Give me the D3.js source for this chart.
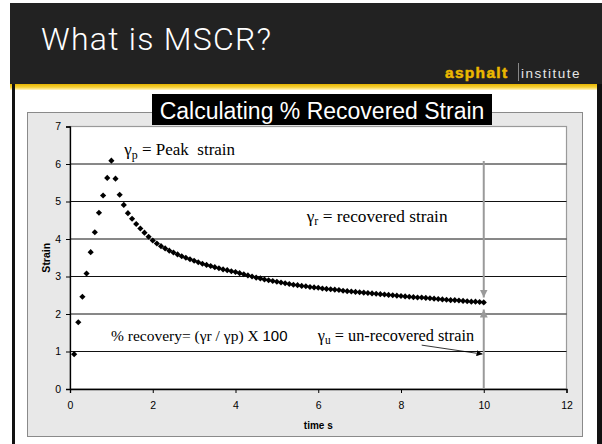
<!DOCTYPE html>
<html><head><meta charset="utf-8">
<script src="https://cdn.jsdelivr.net/npm/d3@7"></script>
<style>html,body{margin:0;padding:0;background:#fff;} svg{display:block;}</style>
</head><body>
<script>
// ---- data ----
const times = [0.1,0.2,0.3,0.4,0.5,0.6,0.7,0.8,0.9,1.0,1.1,1.2,1.3,1.4,1.5,1.6,1.7,1.8,1.9,2.0,
2.1,2.2,2.3,2.4,2.5,2.6,2.7,2.8,2.9,3.0,3.1,3.2,3.3,3.4,3.5,3.6,3.7,3.8,3.9,4.0,
4.1,4.2,4.3,4.4,4.5,4.6,4.7,4.8,4.9,5.0,5.1,5.2,5.3,5.4,5.5,5.6,5.7,5.8,5.9,6.0,
6.1,6.2,6.3,6.4,6.5,6.6,6.7,6.8,6.9,7.0,7.1,7.2,7.3,7.4,7.5,7.6,7.7,7.8,7.9,8.0,
8.1,8.2,8.3,8.4,8.5,8.6,8.7,8.8,8.9,9.0,9.1,9.2,9.3,9.4,9.5,9.6,9.7,9.8,9.9,10.0];
const strain = [0.93,1.78,2.46,3.08,3.65,4.18,4.70,5.16,5.63,6.09,5.61,5.18,4.91,4.69,4.54,4.40,4.28,4.17,4.06,3.96,
3.88,3.81,3.75,3.69,3.64,3.59,3.54,3.50,3.46,3.42,3.38,3.34,3.31,3.28,3.25,3.22,3.19,3.17,3.14,3.12,
3.09,3.06,3.03,3.00,2.97,2.95,2.92,2.90,2.88,2.86,2.84,2.82,2.80,2.78,2.77,2.75,2.74,2.72,2.71,2.70,
2.68,2.67,2.66,2.65,2.64,2.62,2.61,2.60,2.59,2.58,2.57,2.56,2.55,2.54,2.53,2.52,2.51,2.50,2.49,2.48,
2.47,2.46,2.45,2.44,2.44,2.43,2.42,2.41,2.40,2.39,2.38,2.37,2.37,2.36,2.35,2.34,2.33,2.33,2.32,2.31];
const xTicks = [0,2,4,6,8,10,12];
const yTicks = [0,1,2,3,4,5,6,7];
const gridValues = [1,2,3,4,5,6];
const slideTitle = "What is MSCR?";
const chartTitle = "Calculating % Recovered Strain";
const xLabel = "time s";
const yLabel = "Strain";

// ---- layout ----
const W = 602, H = 444;
const sans = "Liberation Sans, Arial, sans-serif";
const serif = "Liberation Serif, Times New Roman, serif";
const svg = d3.select("body").append("svg").attr("width", W).attr("height", H);
const defs = svg.append("defs");
const yg = defs.append("linearGradient").attr("id","yel").attr("x1",0).attr("y1",0).attr("x2",0).attr("y2",1);
yg.append("stop").attr("offset","0%").attr("stop-color","#e6b400");
yg.append("stop").attr("offset","55%").attr("stop-color","#f6d23a");
yg.append("stop").attr("offset","100%").attr("stop-color","#fff6cc");

// slide header
svg.append("rect").attr("x",10).attr("y",3).attr("width",W-10).attr("height",81).attr("fill","#222");
svg.append("rect").attr("x",10).attr("y",84).attr("width",W-10).attr("height",6).attr("fill","url(#yel)");
svg.append("text").attr("x",41).attr("y",50).attr("fill","#fff")
  .attr("font-family","Roboto, Liberation Sans, sans-serif").attr("font-weight",300).attr("font-size",32).attr("letter-spacing",1.25)
  .text(slideTitle);
svg.append("text").attr("x",445).attr("y",78).attr("fill","#ebb800").attr("font-weight","bold")
  .attr("font-size",15.5).attr("letter-spacing",1.3).attr("font-family",sans)
  .attr("stroke","#ebb800").attr("stroke-width",0.5).text("asphalt");
svg.append("line").attr("x1",518.5).attr("x2",518.5).attr("y1",63).attr("y2",81).attr("stroke","#888").attr("stroke-width",1);
svg.append("text").attr("x",521).attr("y",78).attr("fill","#e6e6e6").attr("font-size",13.5).attr("letter-spacing",1.5)
  .attr("font-family",sans).text("institute");

// side borders
svg.append("rect").attr("x",12).attr("y",84).attr("width",3).attr("height",H-84).attr("fill","#111");
svg.append("rect").attr("x",597).attr("y",84).attr("width",5).attr("height",H-84).attr("fill","#111");

// chart area
svg.append("rect").attr("x",27.5).attr("y",112.5).attr("width",555).attr("height",324)
  .attr("fill","#e8e8e8").attr("stroke","#8a8a8a").attr("stroke-width",1);

const x = d3.scaleLinear().domain([0,12]).range([70,566.5]);
const y = d3.scaleLinear().domain([0,7]).range([389,126.5]);

// plot area
svg.append("rect").attr("x",x(0)).attr("y",y(7)).attr("width",x(12)-x(0)).attr("height",y(0)-y(7))
  .attr("fill","#fff").attr("stroke","#9a9a9a").attr("stroke-width",1.2);

// gridlines
svg.append("g").selectAll("line").data(gridValues).join("line")
  .attr("x1",x(0)).attr("x2",x(12)).attr("y1",d=>y(d)).attr("y2",d=>y(d))
  .attr("stroke","#111").attr("stroke-width",1);

// axes
const gx = svg.append("g").attr("transform",`translate(0,${y(0)})`)
  .call(d3.axisBottom(x).tickValues(xTicks).tickSize(4).tickPadding(9).tickFormat(d3.format("d")));
const gy = svg.append("g").attr("transform",`translate(${x(0)},0)`)
  .call(d3.axisLeft(y).tickValues(yTicks).tickSize(4).tickPadding(5).tickFormat(d3.format("d")));
[gx,gy].forEach(g=>{
  g.select(".domain").attr("stroke","#000").attr("stroke-width",1.3);
  g.selectAll(".tick line").attr("stroke","#000");
  g.selectAll("text").attr("font-family",sans).attr("font-size",10.5).attr("fill","#000");
});

svg.append("text").attr("x",(x(0)+x(12))/2).attr("y",429).attr("text-anchor","middle")
  .attr("font-family",sans).attr("font-weight","bold").attr("font-size",10).text(xLabel);
svg.append("text").attr("transform",`translate(50,${(y(0)+y(7))/2}) rotate(-90)`).attr("text-anchor","middle")
  .attr("font-family",sans).attr("font-weight","bold").attr("font-size",10.5).text(yLabel);

// grey arrows at x=10
const mk = (id,col,sz)=>{
  defs.append("marker").attr("id",id).attr("viewBox","0 0 10 10").attr("refX",10).attr("refY",5)
    .attr("markerWidth",sz).attr("markerHeight",sz).attr("markerUnits","userSpaceOnUse").attr("orient","auto")
    .append("path").attr("d","M0,0L10,5L0,10z").attr("fill",col);
};
mk("ag","#9a9a9a",8); mk("ab","#000",6);
svg.append("line").attr("x1",x(10)).attr("x2",x(10)).attr("y1",y(6.08)).attr("y2",y(2.44))
  .attr("stroke","#9a9a9a").attr("stroke-width",2).attr("marker-end","url(#ag)");
svg.append("line").attr("x1",x(10)).attr("x2",x(10)).attr("y1",y(0)).attr("y2",y(2.12))
  .attr("stroke","#9a9a9a").attr("stroke-width",2).attr("marker-end","url(#ag)");
svg.append("line").attr("x1",x(8.5)).attr("y1",y(1.17)).attr("x2",x(9.97)).attr("y2",y(0.93))
  .attr("stroke","#000").attr("stroke-width",0.8).attr("marker-end","url(#ab)");

// points
const pts = times.map((t,i)=>({t, v: strain[i]}));
svg.append("g").selectAll("path").data(pts).join("path")
  .attr("transform",d=>`translate(${x(d.t)},${y(d.v)}) rotate(45)`)
  .attr("d", d3.symbol().type(d3.symbolSquare).size(19))
  .attr("fill","#000");

// annotations
function gammaText(px, py, sub, rest, fs){
  const t = svg.append("text").attr("x",px).attr("y",py).attr("font-family",serif).attr("font-size",fs).attr("fill","#000");
  t.append("tspan").text("γ");
  t.append("tspan").attr("font-size",fs*0.7).attr("dy",3.5).text(sub);
  t.append("tspan").attr("dy",-3.5).text(rest);
  return t;
}
gammaText(x(1.31), y(6.24), "p", " = Peak\u00a0\u00a0strain", 17);
gammaText(x(5.72), y(4.46), "r", " = recovered strain", 17.3);
gammaText(x(5.99), y(1.29), "u", " = un-recovered strain", 16.3);
const rec = svg.append("text").attr("x",x(0.99)).attr("y",y(1.29)).attr("font-family",serif).attr("font-size",15.5);
rec.append("tspan").text("% recovery= (γr / γp) X ");
rec.append("tspan").attr("font-family",sans).attr("font-size",15).text("100");

// chart title box
svg.append("rect").attr("x",152).attr("y",94).attr("width",340).attr("height",31).attr("fill","#000");
svg.append("text").attr("x",(152+492)/2).attr("y",119).attr("text-anchor","middle")
  .attr("fill","#fff").attr("font-family",sans).attr("font-size",23).text(chartTitle);
</script>
</body></html>
